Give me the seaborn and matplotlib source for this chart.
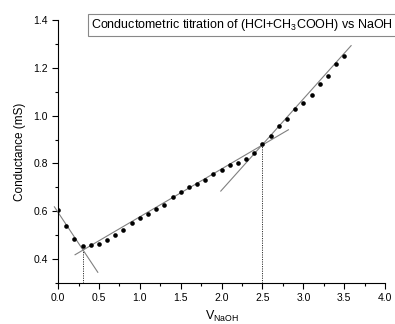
import numpy as np
import pandas as pd
import matplotlib
matplotlib.use("Agg")
import matplotlib.pyplot as plt
import seaborn as sns

# volume of NaOH added and measured conductance #
v_naoh = [0.0, 0.1, 0.2, 0.3, 0.4, 0.5, 0.6, 0.7, 0.8, 0.9,
          1.0, 1.1, 1.2, 1.3, 1.4, 1.5, 1.6, 1.7, 1.8, 1.9,
          2.0, 2.1, 2.2, 2.3, 2.4, 2.5, 2.6, 2.7, 2.8, 2.9,
          3.0, 3.1, 3.2, 3.3, 3.4, 3.5]
conductance = [0.603, 0.538, 0.485, 0.456, 0.458, 0.464, 0.479, 0.500, 0.521, 0.551,
               0.572, 0.589, 0.608, 0.628, 0.660, 0.679, 0.700, 0.712, 0.732, 0.757,
               0.774, 0.794, 0.803, 0.820, 0.844, 0.881, 0.915, 0.955, 0.987, 1.027,
               1.053, 1.085, 1.132, 1.164, 1.218, 1.250]

# straight line fits for the three branches #
fit_slope = [-0.516, 0.2005, 0.382]
fit_intercept = [0.595, 0.376, -0.076]
fit_start = [-0.045, 0.208, 1.99]
fit_end = [0.486, 2.817, 3.584]

plt.rcParams['font.family'] = ['Liberation Sans', 'DejaVu Sans']
plt.rcParams['mathtext.fontset'] = 'custom'
plt.rcParams['mathtext.rm'] = 'Liberation Sans'
plt.rcParams['mathtext.it'] = 'Liberation Sans'

fig = plt.figure(figsize=(3.95, 3.24), dpi=100)
ax = fig.add_axes([0.147, 0.127, 0.828, 0.811])

df = pd.DataFrame({'v': v_naoh, 'g': conductance})

# fit lines #
for m, c, x0, x1 in zip(fit_slope, fit_intercept, fit_start, fit_end):
    xs = np.array([x0, x1])
    line = pd.DataFrame({'v': xs, 'g': m * xs + c})
    sns.lineplot(data=line, x='v', y='g', ax=ax, color='#808080', lw=0.8,
                 clip_on=False, zorder=2)

# end points from intersections #
for i in range(2):
    xe = (fit_intercept[i + 1] - fit_intercept[i]) / (fit_slope[i] - fit_slope[i + 1])
    ye = fit_slope[i] * xe + fit_intercept[i]
    ax.plot([xe, xe], [0.3, ye], ls=(0, (1.2, 1.2)), color='#333333', lw=0.7, zorder=1)

sns.scatterplot(data=df, x='v', y='g', ax=ax, color='black', s=11,
                edgecolor='black', linewidth=0, zorder=3)

ax.set_xlim(0, 4)
ax.set_ylim(0.3, 1.4)
ax.set_xticks(np.arange(0, 4.01, 0.5))
ax.set_yticks(np.arange(0.4, 1.41, 0.2))
ax.set_xticks(np.arange(0.25, 4, 0.5), minor=True)
ax.set_yticks(np.arange(0.3, 1.4, 0.2), minor=True)
ax.tick_params(which='major', length=4, width=0.8, labelsize=7.5, direction='out')
ax.tick_params(which='minor', length=2, width=0.8, direction='out')

sns.despine(ax=ax, top=True, right=True)
for s in ['left', 'bottom']:
    ax.spines[s].set_linewidth(0.8)

ax.set_xlabel(r'V$_{\mathrm{NaOH}}$', fontsize=9, labelpad=4)
ax.set_ylabel('Conductance (mS)', fontsize=8.5, labelpad=5)

fig.text(0.231, 0.922, r'Conductometric titration of (HCl+CH$_3$COOH) vs NaOH',
         fontsize=9, va='center', ha='left',
         bbox=dict(boxstyle='square,pad=0.25', fc='white', ec='#888888', lw=0.8))

plt.savefig('out.png', dpi=100)
